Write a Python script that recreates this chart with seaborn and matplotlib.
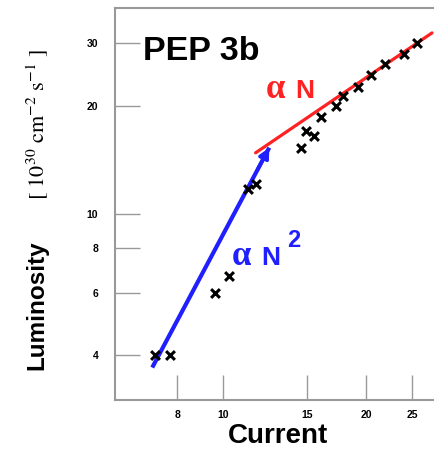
import numpy as np
import pandas as pd
import matplotlib
matplotlib.use("Agg")
import matplotlib.pyplot as plt
import seaborn as sns

# ---- data ----
current = [7.18, 7.72, 9.63, 10.3, 11.3, 11.7, 14.6, 14.9, 15.5, 16.05,
           17.25, 17.9, 19.2, 20.5, 21.9, 24.0, 25.6]
luminosity = [4.0, 4.0, 6.0, 6.7, 11.7, 12.1, 15.3, 17.0, 16.5, 18.6,
              20.0, 21.3, 22.7, 24.4, 26.2, 28.1, 30.0]

n2_x = [7.09, 12.5]      # "alpha N^2" guide line
n2_y = [3.70, 15.3]
n1_x = [11.7, 27.5]      # "alpha N" guide line
n1_y = [14.8, 32.1]

xticks = [8, 10, 15, 20, 25]
yticks = [4, 6, 8, 10, 20, 30]

sns.set_style("white")
plt.rcParams['font.family'] = ['Liberation Sans', 'DejaVu Sans']
plt.rcParams['mathtext.fontset'] = 'stix'
plt.rcParams['text.color'] = 'black'
plt.rcParams['xtick.color'] = 'black'
plt.rcParams['ytick.color'] = 'black'

W, H = 435, 449
fig = plt.figure(figsize=(W / 100, H / 100), dpi=100)
ax = fig.add_axes([115 / W, 49 / H, 320 / W, 392 / H])

df = pd.DataFrame({"Current": current, "Luminosity": luminosity})
sns.lineplot(x=n2_x, y=n2_y, ax=ax, color="#1f1fff", lw=3.0,
             solid_capstyle="butt")
sns.lineplot(x=n1_x, y=n1_y, ax=ax, color="#ff2222", lw=2.3)
sns.scatterplot(data=df, x="Current", y="Luminosity", ax=ax, marker="x",
                color="black", s=40, linewidth=2.2, zorder=5)

# arrow head at the end of the N^2 line
fx = n2_x[0] * (n2_x[1] / n2_x[0]) ** 0.9
fy = n2_y[0] * (n2_y[1] / n2_y[0]) ** 0.9
ax.annotate("", xy=(n2_x[1], n2_y[1]), xytext=(fx, fy),
            arrowprops=dict(arrowstyle="-|>,head_length=0.6,head_width=0.3",
                            color="#1f1fff", lw=2.5, shrinkA=0, shrinkB=0))

ax.set_xscale("log")
ax.set_yscale("log")
ax.set_xlim(5.92, 27.9)
ax.set_ylim(3.0, 37.7)
ax.set_xticks(xticks, [str(t) for t in xticks])
ax.set_yticks(yticks, [str(t) for t in yticks])
ax.minorticks_off()
ax.tick_params(axis="both", which="major", direction="in", length=18,
               width=1.0, color="#999999", labelcolor="black", labelsize=7.5,
               bottom=True, left=True, top=False, right=False)
ax.tick_params(axis="y", pad=12)
ax.tick_params(axis="x", pad=7)
for lab in ax.get_xticklabels() + ax.get_yticklabels():
    lab.set_fontweight("bold")
ax.set_xlabel("")
ax.set_ylabel("")
for s in ["left", "bottom", "top"]:
    ax.spines[s].set_color("#999999")
    ax.spines[s].set_linewidth(1.5)
ax.spines["right"].set_visible(False)

def fx_(px):
    return px / W

def fy_(py):
    return 1 - py / H

fig.text(fx_(143), fy_(60), "PEP 3b", fontsize=24.5, fontweight="bold",
         ha="left", va="baseline", color="black")
fig.text(fx_(278), fy_(436), "Current", fontsize=20, fontweight="bold",
         ha="center", va="center")
fig.text(fx_(37), fy_(305), "Luminosity", fontsize=17.5, fontweight="bold",
         rotation=90, ha="center", va="center")
fig.text(fx_(38), fy_(125), r"$[\ 10^{30}\ \mathrm{cm}^{-2}\ \mathrm{s}^{-1}\ ]$",
         fontsize=16, rotation=90, ha="center", va="center")

# "alpha N" (red) and "alpha N^2" (blue)
fig.text(fx_(266), fy_(98), "α", family="Liberation Serif", fontsize=25,
         fontweight="bold", color="#ff2222", ha="left", va="baseline")
fig.text(fx_(295), fy_(98), "N", fontsize=19, fontweight="bold",
         color="#ff2222", ha="left", va="baseline")
fig.text(fx_(232), fy_(265), "α", family="Liberation Serif", fontsize=25,
         fontweight="bold", color="#1f1fff", ha="left", va="baseline")
fig.text(fx_(261), fy_(265), "N", fontsize=19, fontweight="bold",
         color="#1f1fff", ha="left", va="baseline")
fig.text(fx_(287), fy_(247), "2", fontsize=17, fontweight="bold",
         color="#1f1fff", ha="left", va="baseline")

fig.savefig("out.png", dpi=100)
